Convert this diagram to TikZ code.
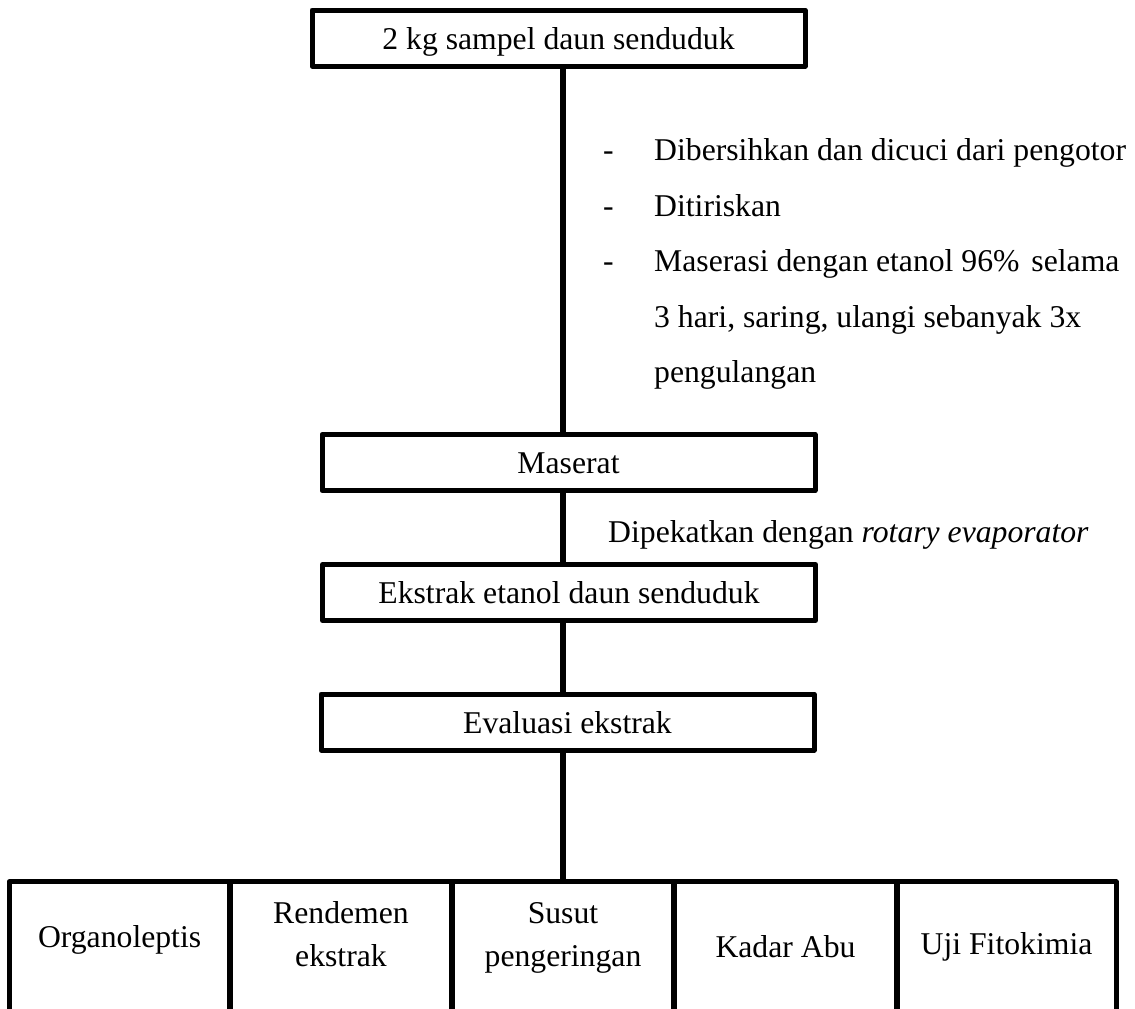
\documentclass[tikz,border=0pt]{standalone}
\usepackage{fontspec}
\setmainfont{Liberation Serif}
\newcommand\fs{\fontsize{31.7pt}{38pt}\selectfont}
\begin{document}
\begin{tikzpicture}[x=1pt,y=-1pt,
  box/.style={draw, line width=5pt, line join=round, inner sep=0pt,
    minimum width=493pt, minimum height=56pt, text height=22pt, text depth=0pt, font=\fs},
  cell/.style={inner sep=0pt, minimum height=127pt},
  txt/.style={anchor=base, inner sep=0pt, font=\fs},
  ltxt/.style={anchor=base west, inner sep=0pt, font=\fs},
  conn/.style={line width=5.5pt},
  edge/.style={line width=5pt, line join=round}]
\useasboundingbox (0,0) rectangle (1135,1009);

% main boxes
\node[box] (top) at (558.5,38) {2 kg sampel daun senduduk};
\node[box] (mas) at (568.5,462.5) {Maserat};
\node[box] (eks) at (569,592.5) {Ekstrak etanol daun senduduk};
\node[box] (eva) at (567.5,722) {Evaluasi ekstrak};

% bottom cells (open at the bottom edge)
\node[cell, minimum width=220.75pt] (b1) at (119.6,945.5) {};
\node[cell, minimum width=222pt] (b2) at (341,945.5) {};
\node[cell, minimum width=222pt] (b3) at (563,945.5) {};
\node[cell, minimum width=223pt] (b4) at (785.5,945.5) {};
\node[cell, minimum width=219pt] (b5) at (1006.5,945.5) {};
\foreach \b in {b1,b2,b3,b4,b5}
  \draw[edge] (\b.south west) -- (\b.north west) -- (\b.north east) -- (\b.south east);

\node[txt] (t1) at (119.6,947) {Organoleptis};
\node[txt] (t2a) at (341,923) {Rendemen};
\node[txt] (t2b) at (341,966) {ekstrak};
\node[txt] (t3a) at (563,923) {Susut};
\node[txt] (t3b) at (563,966) {pengeringan};
\node[txt] (t4) at (785.5,957) {Kadar Abu};
\node[txt] (t5) at (1006.5,954) {Uji Fitokimia};

% connectors
\coordinate (lx) at (563,0);
\draw[conn] (lx |- top.south) -- (lx |- mas.north);
\draw[conn] (lx |- mas.south) -- (lx |- eks.north);
\draw[conn] (lx |- eks.south) -- (lx |- eva.north);
\draw[conn] (lx |- eva.south) -- (lx |- b3.north);

% process notes
\node[ltxt] (d1) at (603,160) {-};
\node[ltxt] (d2) at (603,216) {-};
\node[ltxt] (d3) at (603,271.5) {-};
\node[ltxt] (l1) at (654,160) {Dibersihkan dan dicuci dari pengotor};
\node[ltxt] (l2) at (654,216) {Ditiriskan};
\node[ltxt] (l3) at (654,271.5) {Maserasi dengan etanol 96\%\hspace{4pt} selama};
\node[ltxt] (l4) at (654,327) {3 hari, saring, ulangi sebanyak 3x};
\node[ltxt] (l5) at (654,382.5) {pengulangan};
\node[ltxt] (pk) at (608,542) {Dipekatkan dengan \textit{rotary evaporator}};
\end{tikzpicture}
\end{document}
